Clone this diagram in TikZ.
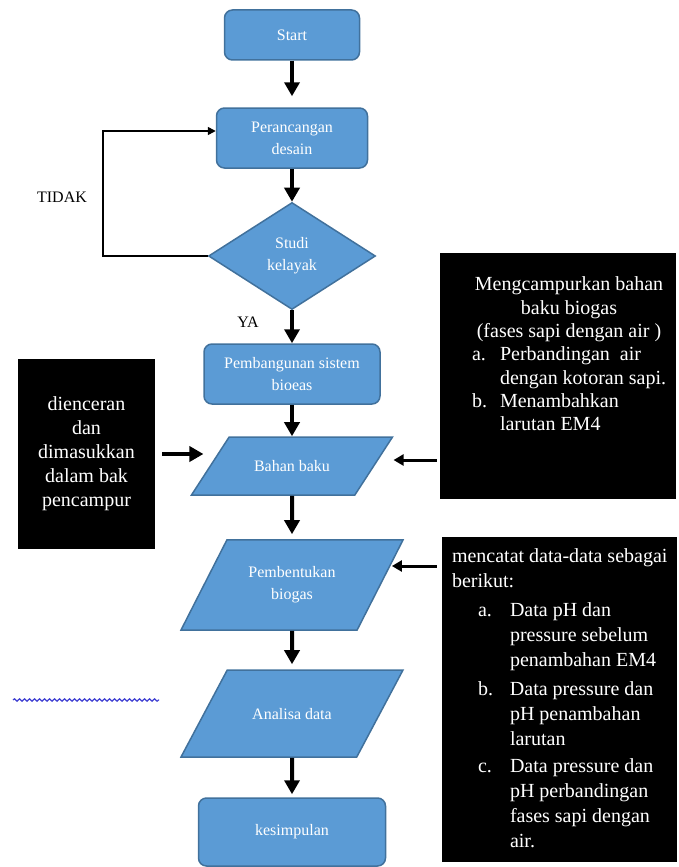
\documentclass[tikz,border=0pt]{standalone}
\usepackage{fontspec}
\setmainfont{Liberation Serif}
\usetikzlibrary{shapes.geometric,arrows.meta,calc,decorations.pathmorphing}
\definecolor{flowblue}{HTML}{5B9BD5}
\definecolor{flowedge}{HTML}{41719C}
\definecolor{spellblue}{RGB}{64,64,210}
\tikzset{
  blue base/.style={fill=flowblue, draw=flowedge, line width=1.5pt, text=white,
    align=center, font=\fontsize{16}{22}\selectfont},
  process/.style={blue base, rectangle, rounded corners=8pt, inner sep=2pt},
  decision/.style={blue base, diamond, shape aspect=1.56, inner sep=0pt},
  io/.style={blue base, trapezium, trapezium stretches body, inner xsep=2pt},
  note/.style={fill=black, text=white, inner sep=0pt, font=\fontsize{20}{24}\selectfont},
  flow/.style={-{Triangle[width=15pt,length=14pt]}, line width=4pt},
  side/.style={-{Triangle[width=11pt,length=10pt]}, line width=3pt},
  back/.style={-{Triangle[width=8pt,length=8pt]}, line width=1.5pt},
}
\begin{document}
\begin{tikzpicture}[x=1pt, y=-1pt]
  \useasboundingbox (0,0) rectangle (678,867);
  % main column
  \node[process, minimum width=135pt, minimum height=50pt] (start) at (292,35) {Start};
  \node[process, minimum width=151pt, minimum height=60pt] (desain) at (292,138) {Perancangan\\desain};
  \node[decision, minimum width=167pt, minimum height=107pt] (studi) at (292,256) {Studi\\kelayak};
  \node[process, minimum width=176pt, minimum height=60pt] (bangun) at (292,374) {Pembangunan sistem\\bioeas};
  \node[io, trapezium left angle=57, trapezium right angle=123, text height=11pt, text depth=0pt,
    inner ysep=23.5pt, minimum width=201pt] (bahan) at (292,466) {Bahan baku};
  \node[io, trapezium left angle=63, trapezium right angle=117,
    inner ysep=26.75pt, minimum width=222pt] (bentuk) at (292,585) {Pembentukan\\biogas};
  \node[io, trapezium left angle=62, trapezium right angle=118, text height=11pt, text depth=0pt,
    inner ysep=38pt, minimum width=222pt] (analisa) at (292,713.5) {Analisa data};
  \node[process, minimum width=187pt, minimum height=68pt] (simpul) at (292,832) {kesimpulan};

  % side notes
  \node[note, minimum width=137pt, minimum height=190pt, align=center] (encer) at (86.5,454)
    {dienceran\\dan\\dimasukkan\\dalam bak\\pencampur};
  \node[note, minimum width=236pt, minimum height=246pt] (campur) at (558,376)
    {\parbox[c][246pt][t]{236pt}{\fontsize{20}{23.3}\selectfont
      \vspace*{24pt}\centering\leftskip=22pt plus 1fil
      Mengcampurkan bahan\\ baku biogas\\ (fases sapi dengan air )\par
      \raggedright\leftskip=32pt
      \makebox[28pt][l]{a.}Perbandingan\ \ air\\
      \hspace*{28pt}dengan kotoran sapi.\\
      \makebox[28pt][l]{b.}Menambahkan\\
      \hspace*{28pt}larutan EM4\par}};
  \node[note, minimum width=235pt, minimum height=325pt] (catat) at (559.5,699.5)
    {\parbox[c][325pt][t]{235pt}{\fontsize{20}{25}\selectfont
      \vspace*{12pt}\raggedright\leftskip=10pt
      mencatat data-data sebagai\\ berikut:\par
      \leftskip=36pt
      \vspace{4pt}\makebox[32pt][l]{a.}Data pH dan\\
      \hspace*{32pt}pressure sebelum\\
      \hspace*{32pt}penambahan EM4\par
      \vspace{4pt}\makebox[32pt][l]{b.}Data pressure dan\\
      \hspace*{32pt}pH penambahan\\
      \hspace*{32pt}larutan\par
      \vspace{2pt}\makebox[32pt][l]{c.}Data pressure dan\\
      \hspace*{32pt}pH perbandingan\\
      \hspace*{32pt}fases sapi dengan\\
      \hspace*{32pt}air.\par}};

  % labels
  \node[font=\fontsize{16}{18}\selectfont] (tidak) at (62,197) {TIDAK};
  \node[font=\fontsize{16}{18}\selectfont] (ya) at (248,322) {YA};

  % connectors
  \draw[flow, shorten >=11pt] (start) -- (desain);
  \draw[flow] (desain) -- (studi);
  \draw[flow] (studi) -- (bangun);
  \draw[flow] (bangun) -- (bahan);
  \draw[flow, shorten >=5pt] (bahan) -- (bentuk);
  \draw[flow, shorten >=5pt] (bentuk) -- (analisa);
  \draw[flow, shorten >=3pt] (analisa) -- (simpul);
  \draw[back] (studi.west) -- ++(-105,0) |- ([yshift=7pt]desain.west);
  \draw[flow, shorten <=7pt, shorten >=6pt] (encer.east) -- (encer.east -| bahan.west);
  \draw[side] ($(campur.west |- bahan.east)+(-3,-6)$) -- ($(bahan.east)+(19,-6)$);
  \draw[side] ($(catat.west |- bentuk.east)+(-5,-19)$) -- ($(bentuk.east)+(11,-19)$);

  % spelling underline
  \draw[spellblue, line width=1.2pt, decorate,
    decoration={snake, segment length=5pt, amplitude=1.2pt}] (13,700) -- (159,700);
\end{tikzpicture}
\end{document}
